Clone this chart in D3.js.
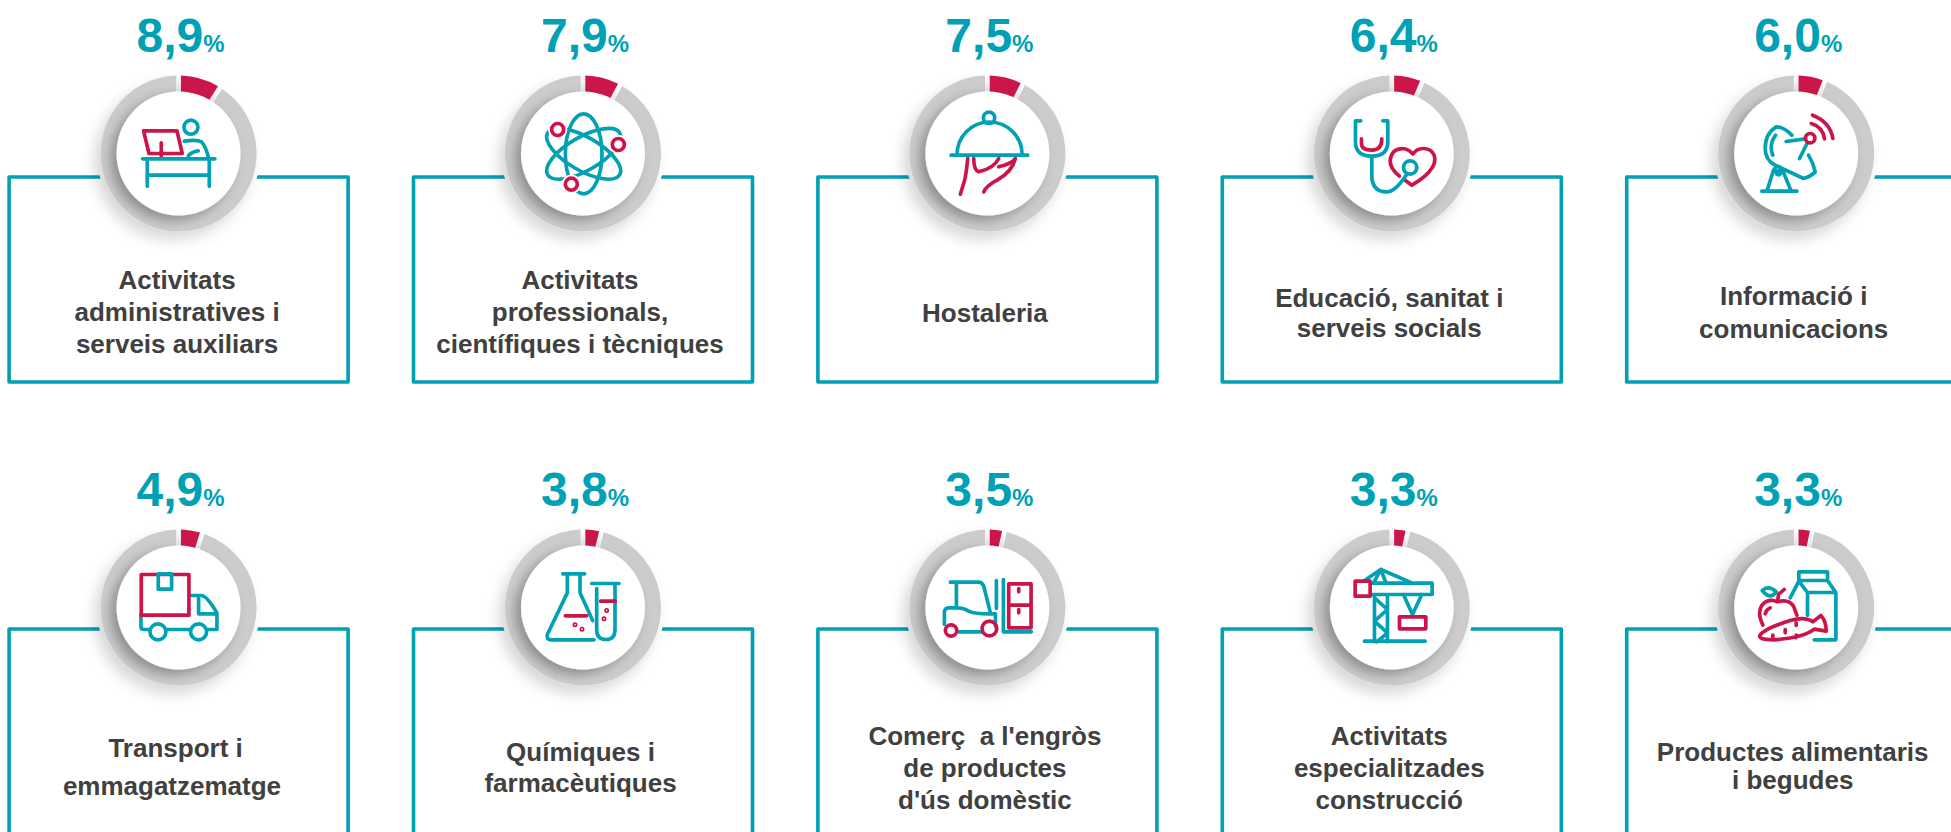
<!DOCTYPE html>
<html>
<head>
<meta charset="utf-8">
<script src="https://cdn.jsdelivr.net/npm/d3@7/dist/d3.min.js"></script>
<style>
    html, body { margin: 0; padding: 0; background: #fff; overflow: hidden; }
    text { font-family: "Liberation Sans", Arial, sans-serif; font-weight: bold; white-space: pre; }
</style>
</head>
<body>
<div class="box"></div>
<script>
// DATA
const sectors = ["Activitats administratives", "Activitats professionals", "Hostaleria", "Educació", "Informació",
                 "Transport", "Químiques", "Comerç a l'engròs", "Especialitzades construcció", "Productes alimentaris"];
const shares = [8.9, 7.9, 7.5, 6.4, 6.0, 4.9, 3.8, 3.5, 3.3, 3.3];
const labelLines = [
    ["Activitats", "administratives i", "serveis auxiliars"],
    ["Activitats", "professionals,", "científiques i tècniques"],
    ["Hostaleria"],
    ["Educació, sanitat i", "serveis socials"],
    ["Informació i", "comunicacions"],
    ["Transport i", "emmagatzematge "],
    ["Químiques i", "farmacèutiques"],
    ["Comerç  a l'engròs", "de productes", "d'ús domèstic"],
    ["Activitats", "especialitzades", "construcció"],
    ["Productes alimentaris", "i begudes"]
];

// LAYOUT
const w = 1951;
const h = 832;
const nCols = 5;
const rowTop = [177, 629];
const ringY = [153.5, 607.5];
const labelY = [288.5, 288.5, 322, 307, 305, 757, 761, 745, 745, 760.5];
const lineGap = [32, 32, 32, 30, 33, 38, 31, 32, 32, 28];
const labelDx = [-1.5, -3, -2.5, -2.5, -2.5, -3, -2.5, -2.5, -2.5, -3.5];

const teal = "#00a0b5";
const red = "#cc1449";
const grey = "#cdcbcc";
const ink = "#404040";

const x = d3.scaleLinear().domain([0, nCols - 1]).range([178.6, 1796.2]);
const angle = d3.scaleLinear().domain([0, 100]).range([0, 2 * Math.PI]);
const arc = d3.arc().innerRadius(61).outerRadius(78).padAngle(0.06).padRadius(78);
const fmt = d3.formatLocale({ decimal: ",", thousands: ".", grouping: [3], currency: ["", "€"] }).format(".1f");

const svg = d3.select(".box")
                .append("svg")
                .attr("width", w)
                .attr("height", h)
                .style("display", "block");

// SHADOWS
const defs = svg.append("defs");
const outerShadow = defs.append("filter").attr("id", "ringShadow")
    .attr("x", "-40%").attr("y", "-40%").attr("width", "180%").attr("height", "180%");
outerShadow.append("feDropShadow")
    .attr("dx", -6).attr("dy", 8).attr("stdDeviation", 7)
    .attr("flood-color", "#000").attr("flood-opacity", 0.16);
const discShadow = defs.append("filter").attr("id", "discShadow")
    .attr("x", "-40%").attr("y", "-40%").attr("width", "180%").attr("height", "180%");
discShadow.append("feGaussianBlur").attr("in", "SourceGraphic").attr("stdDeviation", 0.7).attr("result", "soft");
discShadow.append("feDropShadow")
    .attr("in", "soft")
    .attr("dx", -6).attr("dy", 5).attr("stdDeviation", 6)
    .attr("flood-color", "#000").attr("flood-opacity", 0.3);

// ICONS, drawn in 3x units around the ring centre
const circ = (cx, cy, r) => `M${cx - r} ${cy}a${r} ${r} 0 1 0 ${2 * r} 0a${r} ${r} 0 1 0 ${-2 * r} 0`;
const icons = [
    { c: [536, 460], parts: [
        [red, "M431 392H531L547 460H447ZM484 428V468"],
        [teal, circ(573, 381, 21) + "M553 423Q590 417 605 425Q618 440 625 470M565 467Q575 455 595 452M428 476H645M442 476V558M628 476V558M442 525H628"]
    ]},
    { c: [339, 280], parts: [
        [teal, "M341 161C371 161 396 215 396 281C396 347 371 401 341 401C311 401 286 347 286 281C286 215 311 161 341 161Z"],
        [teal, "M341 281m-125 0a125 50 0 1 0 250 0a125 50 0 1 0 -250 0", 11, "rotate(30 341 281)"],
        [teal, "M341 281m-125 0a125 50 0 1 0 250 0a125 50 0 1 0 -250 0", 11, "rotate(-30 341 281)"],
        ["#fff", circ(263, 208, 24) + circ(445, 253, 24) + circ(304, 372, 24), 10],
        [red, circ(263, 208, 18) + circ(445, 253, 18) + circ(304, 372, 18)]
    ]},
    { c: [321, 280], parts: [
        [red, "M262 295C258 330 257 355 247 378L240 402M280 295Q280 330 295 335Q340 325 355 295M355 320Q395 310 405 295Q395 335 350 360Q320 375 310 395"],
        [teal, "M230 283A97 97 0 0 1 425 283M212 285H442" + circ(326, 173, 17)]
    ]},
    { c: [335, 280], parts: [
        [red, "M244 236V250Q244 270 275 270Q305 270 305 236M358 348C330 325 322 300 340 275C360 258 385 265 398 282C415 258 450 260 462 285C475 320 430 355 395 375L375 360"],
        [teal, "M242 182H226V245Q226 288 275 288Q323 288 323 245V182H308M275 288V345Q275 395 320 395Q345 395 378 345" + circ(390, 322, 20)]
    ]},
    { c: [318, 280], parts: [
        [teal, "M288 244L345 236M352 247L328 295M305 225Q280 200 258 200Q225 220 225 265Q225 300 255 315L340 355Q360 350 375 335Q370 310 355 285M256 225Q235 255 248 285M215 393H320M230 393L250 330Q262 310 275 325L303 393" + circ(265, 338, 6)],
        [red, "M367 165Q420 185 428 235M363 190Q398 200 403 236" + circ(360, 234, 14)]
    ]},
    { c: [325, 279], parts: [
        [teal, "M362 243H395Q410 245 440 295V345H410M385 250V298H440M360 345H288M236 345H222Q212 345 212 335V300" + circ(263, 352, 24) + circ(385, 352, 24)],
        [red, "M213 180H356V302H213Z"],
        [teal, "M264 178H304V224H264Z"]
    ]},
    { c: [339, 279], parts: [
        [teal, "M278 178H344M292 178V235L232 360Q228 376 245 376H372M330 178V235L368 318M365 207H447M380 222V345Q380 375 408 375Q435 375 435 345V207"],
        [red, "M286 304H350M392 260H436"],
        [red, circ(315, 331, 5) + circ(336, 344, 5) + circ(410, 288, 5) + circ(402, 313, 5), 5]
    ]},
    { c: [321, 279], parts: [
        [teal, "M210 203H295Q305 203 310 215L330 295M228 203V280M192 330V295Q192 280 205 280H230Q250 280 265 290Q285 300 345 298V335M235 352H305M348 198V282M369 195V352H453"],
        [red, "M385 208H452V340H385ZM385 272H452M415 222V232M415 285V295" + circ(212, 348, 17) + circ(327, 342, 22)]
    ]},
    { c: [335, 279], parts: [
        [teal, "M272 206H456V240H272M250 200L302 165L395 205M302 165L280 206M302 165L318 206M283 240V382M322 240V382M283 250L322 285L283 320L322 355L290 382M253 380H435M370 240L397 300L425 240"],
        [red, "M225 200H270V245H225ZM358 307H437V343H358Z"]
    ]},
    { c: [318, 279], parts: [
        [teal, "M326 198V172H412V198M326 198H412L437 234V376H372M300 250L326 200L352 234H437M352 234V302M216 228Q235 210 258 232Q240 258 216 228Z"],
        [red, "M218 332Q200 295 215 272Q235 250 262 262Q295 252 310 275L320 302M262 262L265 240L282 225M225 298Q228 285 240 280M208 365Q215 345 300 318Q345 305 368 322L392 303Q408 320 408 350L372 344Q340 370 250 376Q210 376 208 365ZM285 345V355M318 325V333M248 362V370M318 362V370"]
    ]}
];

// CARDS
const card = svg.selectAll("g.card")
                .data(shares.map((v, i) => ({ sector: sectors[i], value: v, i: i, col: i % nCols, row: Math.floor(i / nCols) })))
                .enter()
                .append("g")
                .attr("class", "card");

// Box outline
card.append("rect")
    .attr("x", d => x(d.col) - 169.5)
    .attr("y", d => rowTop[d.row])
    .attr("width", 339)
    .attr("height", 205)
    .attr("fill", "none")
    .attr("stroke", teal)
    .attr("stroke-width", 3.6)
    .attr("stroke-linejoin", "round");

// White halo that cuts the top of the box
card.append("circle")
    .attr("cx", d => x(d.col))
    .attr("cy", d => ringY[d.row])
    .attr("r", 82)
    .attr("fill", "#fff");

// Ring
const ring = card.append("g")
    .attr("transform", d => `translate(${x(d.col)},${ringY[d.row]})`);

const ringShape = ring.append("g").attr("filter", "url(#ringShadow)");

ringShape.selectAll("path")
    .data(d => [
        { startAngle: angle(0), endAngle: angle(d.value), fill: red },
        { startAngle: angle(d.value), endAngle: angle(100), fill: grey }
    ])
    .enter()
    .append("path")
    .attr("d", arc)
    .attr("fill", s => s.fill);

ring.append("circle")
    .attr("r", 62)
    .attr("fill", "#fff")
    .attr("filter", "url(#discShadow)");

// Icon
const icon = ring.append("g")
    .attr("transform", d => `scale(${1 / 3}) translate(${-icons[d.i].c[0]},${-icons[d.i].c[1]})`)
    .attr("fill", "none")
    .attr("stroke-linecap", "round")
    .attr("stroke-linejoin", "round");

icon.selectAll("path")
    .data(d => icons[d.i].parts)
    .enter()
    .append("path")
    .attr("d", p => p[1])
    .attr("stroke", p => p[0])
    .attr("fill", p => p[0] === "#fff" ? "#fff" : "none")
    .attr("stroke-width", p => p[2] || 11)
    .attr("transform", p => p[3] || null);

// Percentage
const pct = card.append("text")
    .attr("x", d => x(d.col) + 2)
    .attr("y", d => ringY[d.row] - 102)
    .attr("text-anchor", "middle")
    .attr("fill", teal);

pct.append("tspan")
    .attr("font-size", 48)
    .text(d => fmt(d.value));

pct.append("tspan")
    .attr("font-size", 24)
    .text("%");

// Label
const label = card.append("text")
    .attr("text-anchor", "middle")
    .attr("fill", ink)
    .attr("font-size", 26);

label.selectAll("tspan")
    .data(d => labelLines[d.i].map((t, k) => ({ t: t, k: k, i: d.i, col: d.col })))
    .enter()
    .append("tspan")
    .attr("x", l => x(l.col) + labelDx[l.i])
    .attr("y", l => labelY[l.i] + l.k * lineGap[l.i])
    .text(l => l.t);
</script>
</body>
</html>
